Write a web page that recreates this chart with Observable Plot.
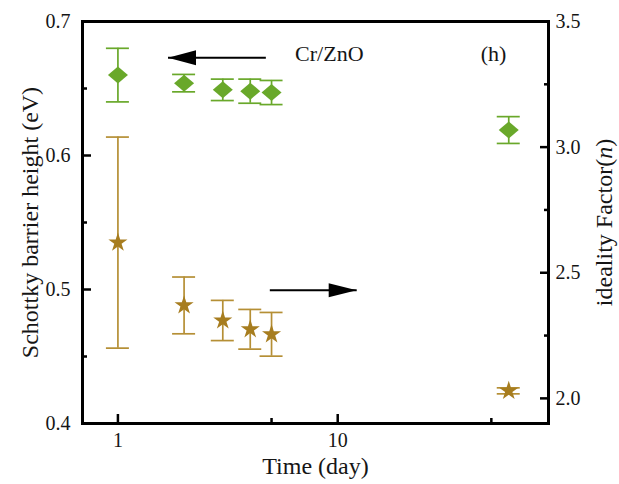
<!DOCTYPE html>
<html><head><meta charset="utf-8">
<script src="https://cdn.jsdelivr.net/npm/d3@7"></script>
<script src="https://cdn.jsdelivr.net/npm/@observablehq/plot@0.6"></script>
<style>
body{margin:0;background:#fff}
#chart{width:619px;height:484px}
#chart svg text{font-family:"Liberation Serif","Times New Roman",Times,serif !important}
</style>
</head><body><div id="chart"></div>
<script>
// ---- data ----
const days = [1, 2, 3, 4, 5, 60];
const barrierHeight = [0.660, 0.654, 0.649, 0.648, 0.647, 0.619];   // eV (left axis)
const barrierErr    = [0.020, 0.0065, 0.008, 0.009, 0.009, 0.010];
const idealityFactor = [2.62, 2.37, 2.31, 2.275, 2.255, 2.03];      // n (right axis)
const idealityErr    = [0.42, 0.113, 0.080, 0.079, 0.087, 0.012];

const leftTicks = [0.4, 0.5, 0.6, 0.7];
const leftMinor = [0.45, 0.55, 0.65];
const rightTicks = [2.0, 2.5, 3.0, 3.5];
const rightMinor = [2.25, 2.75, 3.25];
const xTicks = [1, 10];
const xMinor = [5, 50];

const rightDomain = [1.9, 3.5];
const leftDomain = [0.4, 0.7];

// annotations
const labelTexts = ["Cr/ZnO", "(h)"];
const labelDays = [6.4, 44.7];
const labelEV = [0.676, 0.676];
const arrowTailDay = [4.71, 4.91];
const arrowTipDay = [1.69, 12.2];
const arrowLevel = [0.673, null];     // left arrow in eV
const arrowLevelN = [null, 2.43];     // right arrow in n

const xTitle = "Time (day)";
const yTitle = "Schottky barrier height (eV)";
const y2Title = "ideality Factor(n)";

// ---- helpers ----
const toLeft = n => leftDomain[0] + (n - rightDomain[0]) * (leftDomain[1] - leftDomain[0]) / (rightDomain[1] - rightDomain[0]);
const fromLeft = v => rightDomain[0] + (v - leftDomain[0]) * (rightDomain[1] - rightDomain[0]) / (leftDomain[1] - leftDomain[0]);

const green = "#69a82a";
const gold = "#a77d1f";
const goldBar = "#b58f35";

const sbh = days.map((d, i) => ({day: d, v: barrierHeight[i], lo: barrierHeight[i] - barrierErr[i], hi: barrierHeight[i] + barrierErr[i]}));
const ide = days.map((d, i) => ({day: d, v: toLeft(idealityFactor[i]), lo: toLeft(idealityFactor[i] - idealityErr[i]), hi: toLeft(idealityFactor[i] + idealityErr[i])}));

const arrows = arrowTailDay.map((t, i) => ({
  x1: t, x2: arrowTipDay[i],
  y: arrowLevel[i] != null ? arrowLevel[i] : toLeft(arrowLevelN[i]),
  dir: arrowTipDay[i] < t ? "left" : "right"
}));
const labels = labelTexts.map((t, i) => ({t, x: labelDays[i], y: labelEV[i]}));

const diamond = {draw(ctx) { const w = 10, h = 8.5; ctx.moveTo(0, -h); ctx.lineTo(w, 0); ctx.lineTo(0, h); ctx.lineTo(-w, 0); ctx.closePath(); }};
const headRight = {draw(ctx) { ctx.moveTo(0, 0); ctx.lineTo(-28, -7); ctx.lineTo(-28, 7); ctx.closePath(); }};
const headLeft = {draw(ctx) { ctx.moveTo(0, 0); ctx.lineTo(28, -7.5); ctx.lineTo(28, 7.5); ctx.closePath(); }};

const ink = "#151515";

const chart = Plot.plot({
  width: 619, height: 484,
  marginLeft: 82, marginRight: 71, marginTop: 21, marginBottom: 61,
  style: {color: ink, background: "#fff", fontFamily: "'Liberation Serif', serif"},
  x: {type: "log", domain: [0.69, 91], label: null},
  y: {domain: leftDomain, label: null},
  marks: [
    // error bars
    Plot.ruleX(sbh, {x: "day", y1: "lo", y2: "hi", stroke: green, strokeWidth: 1.7}),
    Plot.ruleY(sbh, {x1: "day", x2: "day", y: "hi", insetLeft: -11.5, insetRight: -11.5, stroke: green, strokeWidth: 1.7}),
    Plot.ruleY(sbh, {x1: "day", x2: "day", y: "lo", insetLeft: -11.5, insetRight: -11.5, stroke: green, strokeWidth: 1.7}),
    Plot.ruleX(ide, {x: "day", y1: "lo", y2: "hi", stroke: goldBar, strokeWidth: 1.7}),
    Plot.ruleY(ide, {x1: "day", x2: "day", y: "hi", insetLeft: -11.5, insetRight: -11.5, stroke: goldBar, strokeWidth: 1.7}),
    Plot.ruleY(ide, {x1: "day", x2: "day", y: "lo", insetLeft: -11.5, insetRight: -11.5, stroke: goldBar, strokeWidth: 1.7}),
    // markers
    Plot.dot(sbh, {x: "day", y: "v", symbol: diamond, fill: green, stroke: null}),
    Plot.dot(ide, {x: "day", y: "v", symbol: "star", r: 6, fill: gold, stroke: null}),
    // arrows
    Plot.link(arrows, {x1: "x1", x2: "x2", y1: "y", y2: "y", stroke: "#000", strokeWidth: 2}),
    Plot.dot(arrows.filter(a => a.dir === "left"), {x: "x2", y: "y", symbol: headLeft, fill: "#000", stroke: null}),
    Plot.dot(arrows.filter(a => a.dir === "right"), {x: "x2", y: "y", symbol: headRight, fill: "#000", stroke: null}),
    // labels
    Plot.text(labels, {x: "x", y: "y", text: "t", textAnchor: "start", lineAnchor: "middle", fontSize: 22, fill: ink}),
    // frame
    Plot.frame({stroke: "#000", strokeWidth: 3}),
    // inward ticks
    Plot.axisY({anchor: "left", ticks: leftTicks, tickSize: 9, dx: 9, tickFormat: () => "", label: null, strokeWidth: 2.5, stroke: "#000"}),
    Plot.axisY({anchor: "left", ticks: leftMinor, tickSize: 5, dx: 5, tickFormat: () => "", label: null, strokeWidth: 2.5, stroke: "#000"}),
    Plot.axisY({anchor: "right", ticks: rightTicks.map(toLeft), tickSize: 9, dx: -9, tickFormat: () => "", label: null, strokeWidth: 2.5, stroke: "#000"}),
    Plot.axisY({anchor: "right", ticks: rightMinor.map(toLeft), tickSize: 5, dx: -5, tickFormat: () => "", label: null, strokeWidth: 2.5, stroke: "#000"}),
    Plot.axisX({anchor: "bottom", ticks: xTicks, tickSize: 9, dy: -9, tickFormat: () => "", label: null, strokeWidth: 2.5, stroke: "#000"}),
    Plot.axisX({anchor: "bottom", ticks: xMinor, tickSize: 5, dy: -5, tickFormat: () => "", label: null, strokeWidth: 2.5, stroke: "#000"}),
    // tick labels
    Plot.axisY({anchor: "left", ticks: leftTicks, tickSize: 0, tickPadding: 12, tickFormat: d => d.toFixed(1), label: null, fontSize: 20, fill: ink}),
    Plot.axisY({anchor: "right", ticks: rightTicks.map(toLeft), tickSize: 0, tickPadding: 7, tickFormat: v => fromLeft(v).toFixed(1), label: null, fontSize: 20, fill: ink}),
    Plot.axisX({anchor: "bottom", ticks: xTicks, tickSize: 0, tickPadding: 9, tickFormat: d => String(d), label: null, fontSize: 20, fill: ink}),
    // axis titles
    Plot.text([yTitle], {frameAnchor: "left", dx: -52, rotate: -90, fontSize: 24, fill: ink, textAnchor: "middle", lineAnchor: "middle"}),
    Plot.text([y2Title], {frameAnchor: "right", dx: 56, rotate: -90, fontSize: 24, fill: ink, textAnchor: "middle", lineAnchor: "middle"}),
    Plot.text([xTitle], {frameAnchor: "bottom", dy: 43, fontSize: 24, fill: ink, textAnchor: "middle", lineAnchor: "middle"})
  ]
});

// italic n in the right-axis title
chart.querySelectorAll("text").forEach(t => {
  if (t.textContent === y2Title) {
    while (t.firstChild) t.removeChild(t.firstChild);
    const ns = "http://www.w3.org/2000/svg";
    t.appendChild(document.createTextNode("ideality Factor("));
    const it = document.createElementNS(ns, "tspan");
    it.setAttribute("font-style", "italic");
    it.textContent = "n";
    t.appendChild(it);
    t.appendChild(document.createTextNode(")"));
  }
});

document.getElementById("chart").appendChild(chart);
</script>
</body></html>
